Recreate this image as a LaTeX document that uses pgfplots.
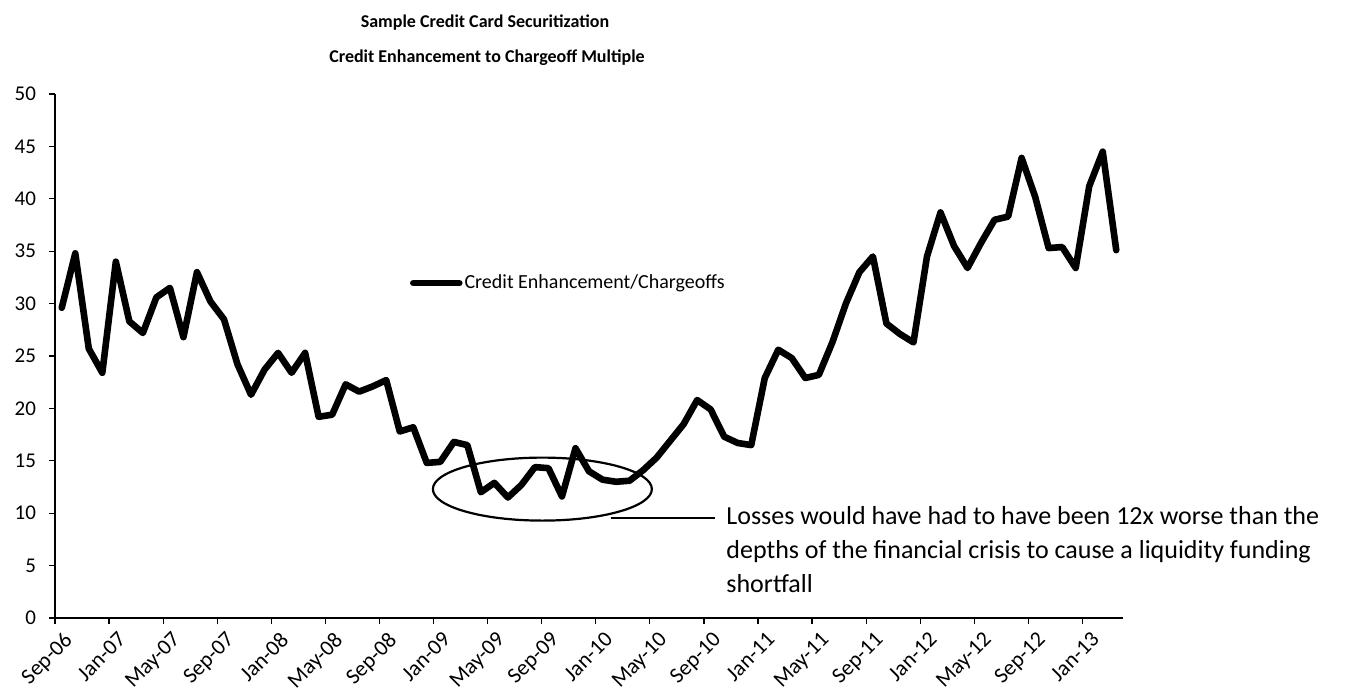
\documentclass[border=0pt]{standalone}
\usepackage{fontspec}
\setmainfont{Carlito}
\usepackage{pgfplots}
\usepackage{pgfplotstable}
\pgfplotsset{compat=1.18}

% Monthly credit enhancement / chargeoff multiple, Sep-06 (m=0) to Mar-13 (m=78)
\pgfplotstableread{
m    v
0    29.6
1    34.8
2    25.7
3    23.4
4    34.0
5    28.3
6    27.2
7    30.6
8    31.5
9    26.8
10   33.0
11   30.2
12   28.5
13   24.2
14   21.3
15   23.7
16   25.3
17   23.4
18   25.3
19   19.2
20   19.4
21   22.3
22   21.6
23   22.1
24   22.7
25   17.8
26   18.2
27   14.8
28   14.9
29   16.8
30   16.5
31   12.0
32   12.9
33   11.5
34   12.7
35   14.4
36   14.3
37   11.6
38   16.2
39   14.0
40   13.2
41   13.0
42   13.1
43   14.1
44   15.3
45   16.9
46   18.5
47   20.8
48   19.9
49   17.3
50   16.7
51   16.5
52   22.9
53   25.6
54   24.8
55   22.9
56   23.2
57   26.3
58   30.0
59   33.0
60   34.5
61   28.1
62   27.1
63   26.3
64   34.5
65   38.7
66   35.5
67   33.4
68   35.8
69   38.0
70   38.3
71   43.9
72   40.2
73   35.3
74   35.4
75   33.4
76   41.2
77   44.5
78   35.1
}\multipletable

\begin{document}
\begin{tikzpicture}
\path[use as bounding box] (0,0) rectangle (673.5pt,346.5pt);

\begin{axis}[
  at={(27.5pt,37.5pt)}, anchor=south west,
  scale only axis, width=534pt, height=262pt,
  xmin=0, xmax=79, ymin=0, ymax=50,
  axis x line*=bottom, axis y line*=left,
  axis line style={-, black, line width=0.8pt},
  xtick={0,4,...,76},
  xticklabels={Sep-06,Jan-07,May-07,Sep-07,Jan-08,May-08,Sep-08,Jan-09,May-09,Sep-09,Jan-10,May-10,Sep-10,Jan-11,May-11,Sep-11,Jan-12,May-12,Sep-12,Jan-13},
  ytick={0,5,...,50},
  tick align=outside, major tick length=3pt,
  tick style={black, line width=0.6pt},
  xticklabel style={rotate=45, anchor=north east, font=\fontsize{11}{13}\selectfont,
    inner sep=0pt, yshift=-5pt, xshift=0.5pt},
  yticklabel style={font=\fontsize{10.5}{12}\selectfont, xshift=-3pt},
  /pgf/number format/assume math mode=true,
  clip=false,
  legend style={draw=none, fill=none, at={(0.332,0.639)}, anchor=west,
    inner sep=0pt, font=\fontsize{10}{12}\selectfont,
    nodes={inner sep=1pt}},
  legend image code/.code={\draw[#1] (0pt,0pt) -- (23pt,0pt);},
]
\addplot[black, line width=3.3pt, line join=round, line cap=round]
  table[x expr=\thisrow{m}+0.5, y=v] {\multipletable};
\addlegendentry{Credit Enhancement/Chargeoffs}

% highlight of the crisis trough and its callout line
\draw[black, line width=1.1pt] (axis cs:36.05,12.3) ellipse [x radius=54.75pt, y radius=15.75pt];
\draw[black, line width=1.1pt] (axis cs:41.1,9.55) -- (axis cs:48.85,9.55);
\end{axis}

% chart title
\node[font=\bfseries\fontsize{9}{11}\selectfont, anchor=base] at (242.5pt,333pt) {Sample Credit Card Securitization};
\node[font=\bfseries\fontsize{9}{11}\selectfont, anchor=base] at (243.5pt,315.5pt) {Credit Enhancement to Chargeoff Multiple};

% callout text
\node[font=\fontsize{13}{16}\selectfont, anchor=base west, inner sep=0pt] at (363pt,84.5pt) {Losses would have had to have been 12x worse than the};
\node[font=\fontsize{13}{16}\selectfont, anchor=base west, inner sep=0pt] at (363pt,67.5pt) {depths of the financial crisis to cause a liquidity funding};
\node[font=\fontsize{13}{16}\selectfont, anchor=base west, inner sep=0pt] at (363pt,50.5pt) {shortfall};
\end{tikzpicture}
\end{document}
